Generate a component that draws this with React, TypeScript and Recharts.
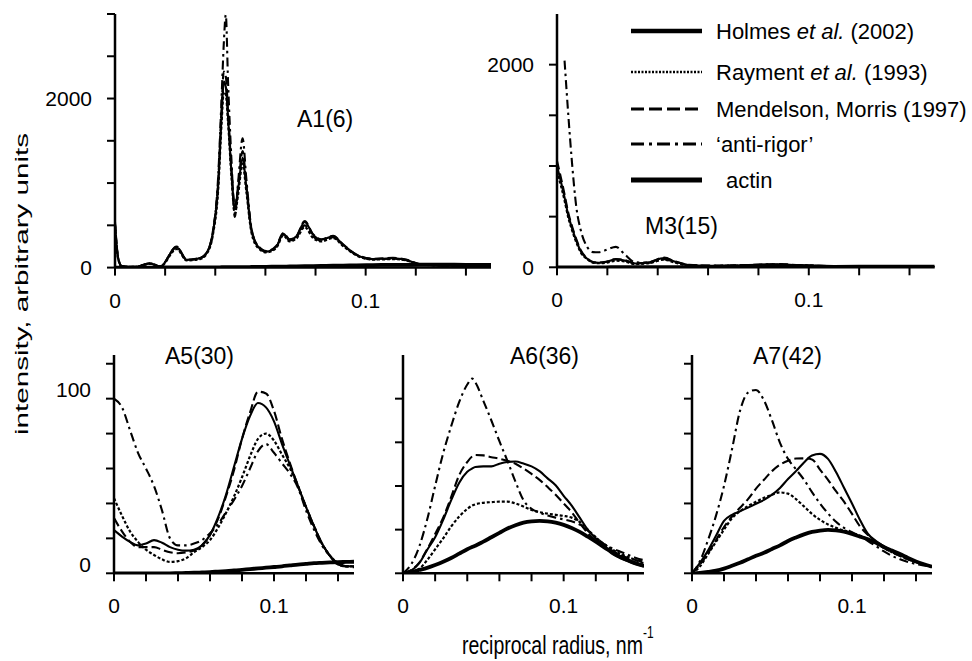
import React from 'react';
import { LineChart, Line, XAxis, YAxis, Legend } from 'recharts';

const FONT = 'Arial, "Liberation Sans", Helvetica, sans-serif';

// ---------- shared ----------
const xTicks = [0, 0.02, 0.04, 0.06, 0.08, 0.1, 0.12, 0.14];
const xGrid = [0, 0.005, 0.01, 0.015, 0.02, 0.025, 0.03, 0.035, 0.04, 0.045, 0.05, 0.055, 0.06, 0.065, 0.07, 0.075, 0.08, 0.085, 0.09, 0.095, 0.1, 0.105, 0.11, 0.115, 0.12, 0.125, 0.13, 0.135, 0.14, 0.145, 0.15];

// ---------- A1(6) ----------
const a1X = [0, 0.0012, 0.0027, 0.008, 0.014, 0.018, 0.0246, 0.0286, 0.0339, 0.0365, 0.039, 0.0412, 0.0425, 0.0434, 0.0442, 0.0451, 0.0465, 0.0478, 0.0491, 0.0509, 0.0524, 0.0544, 0.057, 0.0604, 0.0644, 0.0671, 0.0697, 0.0724, 0.0757, 0.079, 0.0823, 0.087, 0.091, 0.0963, 0.1029, 0.1109, 0.1162, 0.1215, 0.13, 0.14, 0.15];
const a1Holmes = [520, 120, 15, 8, 50, 12, 240, 90, 110, 170, 400, 990, 1780, 2200, 2140, 1780, 1110, 690, 920, 1300, 950, 450, 250, 190, 250, 400, 330, 370, 540, 390, 330, 370, 270, 150, 100, 110, 90, 40, 25, 22, 20];
const a1Rayment = [500, 110, 12, 6, 45, 10, 220, 85, 100, 160, 380, 940, 1700, 2080, 2050, 1720, 1060, 640, 860, 1230, 900, 420, 235, 180, 235, 380, 310, 345, 480, 350, 310, 350, 255, 145, 95, 100, 85, 38, 24, 21, 20];
const a1Mendelson = [540, 130, 18, 8, 52, 14, 250, 95, 115, 175, 420, 1050, 1880, 2320, 2260, 1850, 1150, 720, 960, 1380, 980, 460, 260, 195, 260, 410, 335, 375, 550, 395, 335, 375, 275, 155, 105, 115, 95, 42, 26, 23, 20];
const a1Anti = [500, 120, 15, 8, 48, 12, 245, 92, 112, 172, 410, 1100, 2000, 2650, 2990, 2200, 1250, 600, 1000, 1530, 1050, 470, 255, 190, 250, 390, 320, 360, 500, 370, 315, 360, 265, 150, 100, 105, 88, 40, 25, 22, 20];
const a1Actin = [0, 0, 0, 0, 0, 1, 1, 2, 2, 3, 3, 3, 4, 4, 4, 4, 5, 5, 5, 6, 6, 7, 8, 9, 11, 12, 13, 14, 16, 17, 19, 22, 24, 27, 30, 32, 33, 34, 34, 33, 32];
const a1YTicks = [0, 500, 1000, 1500, 2000, 2500, 3000];
const a1YLabels = [0, 2000];

// ---------- M3(15) ----------
const m3X = [0, 0.003, 0.0045, 0.0058, 0.0077, 0.0095, 0.012, 0.0143, 0.0165, 0.0194, 0.0234, 0.0268, 0.031, 0.0368, 0.0425, 0.047, 0.0524, 0.06, 0.07, 0.08, 0.088, 0.095, 0.11, 0.13, 0.15];
const m3Holmes = [1000, 690, 510, 400, 261, 155, 85, 50, 45, 52, 78, 68, 38, 50, 92, 55, 22, 15, 18, 25, 30, 22, 12, 8, 5];
const m3Rayment = [950, 660, 490, 380, 245, 145, 80, 45, 40, 45, 65, 58, 32, 42, 75, 45, 18, 12, 15, 22, 26, 20, 10, 7, 5];
const m3Mendelson = [1050, 720, 535, 420, 275, 165, 90, 52, 47, 55, 82, 72, 40, 52, 95, 57, 24, 16, 19, 26, 31, 23, 12, 8, 5];
const m3Anti = [null, 2040, 1500, 1080, 590, 360, 200, 150, 148, 170, 202, 130, 50, 45, 80, 50, 20, 14, 17, 24, 28, 20, 11, 7, 5];
const m3Actin = [0, 0, 0, 0, 0, 0, 0, 0, 0, 0, 1, 1, 1, 1, 2, 2, 2, 3, 3, 4, 4, 5, 5, 6, 6];
const m3YTicks = [0, 500, 1000, 1500, 2000];
const m3YLabels = [0, 2000];

// ---------- A5(30) ----------
const a5Holmes = [24.7, 21, 18, 16, 17, 19, 17.5, 15, 13.5, 13, 13.5, 16, 22, 32, 45, 61, 77, 90, 97.5, 95, 87, 74, 62, 50, 38, 27, 17, 10, 5, 4, 4];
const a5Rayment = [43, 33, 24, 18, 13.5, 10.5, 8, 6.5, 7, 8.6, 12, 15, 19, 26, 34.5, 44, 55, 67, 77, 80, 76, 68, 60, 50, 38, 27, 17, 10, 6, 4, 4];
const a5Mendelson = [31.6, 24, 18, 15, 15, 15, 13.5, 12, 11.5, 12, 13, 16, 22, 31, 44, 59, 77, 92, 104, 103, 93, 77, 63, 50, 38, 27, 17, 10, 5, 4, 4];
const a5Anti = [100, 95, 82, 69, 60, 50, 36, 20, 16, 16, 17, 19, 23, 28, 35, 42, 50, 60, 70, 74, 69, 63, 57, 49, 36, 25, 16, 10, 6, 4, 3.5];
const a5Actin = [0, 0, 0, 0, 0, 0, 0, 0, 0.1, 0.2, 0.3, 0.5, 0.7, 1, 1.3, 1.6, 2, 2.4, 2.8, 3.2, 3.6, 4, 4.5, 5, 5.4, 5.8, 6, 6.2, 6.4, 6.5, 6.6];
const a5YTicks = [0, 20, 40, 60, 80, 100, 120];
const a5YLabels = [0, 100];

// ---------- A6(36) ----------
const a6X = [0, 0.005, 0.01, 0.015, 0.02, 0.025, 0.03, 0.035, 0.04, 0.043, 0.045, 0.05, 0.055, 0.06, 0.065, 0.07, 0.075, 0.08, 0.085, 0.09, 0.095, 0.1, 0.105, 0.11, 0.115, 0.12, 0.125, 0.13, 0.135, 0.14, 0.145, 0.15];
const a6Holmes = [0, 1.2, 4.5, 10.7, 16.5, 24.5, 33.5, 41.5, 46.5, 48, 48.7, 49, 49, 50.2, 51, 51.2, 50.3, 49, 46.8, 43.5, 40.3, 35.5, 31, 25.5, 20, 16, 12.5, 9, 7, 5.5, 4, 3];
const a6Rayment = [0, 0.5, 2, 6, 11, 16, 21.5, 26, 29.5, 31, 31.6, 32.3, 32.6, 32.8, 32.8, 32, 30.6, 29, 28, 27.3, 26.8, 26.3, 25.5, 23.5, 20, 16.5, 13.5, 11, 9, 7.5, 6, 4.6];
const a6Mendelson = [0, 1.5, 4.8, 11, 18, 25.5, 35, 45, 51, 53.5, 54.2, 54, 53.2, 52.5, 51.5, 50.2, 48, 45.5, 42.8, 39.5, 36, 32, 28, 23, 18.5, 15, 12.5, 10.5, 8.5, 7, 6, 5.3];
const a6Anti = [0, 4, 12, 24.5, 40, 55, 67.4, 78.5, 86.5, 89.2, 87.5, 79, 70, 60.5, 51.5, 42, 33.5, 29.5, 27.8, 26.5, 25.5, 24.7, 23.8, 22.3, 19.5, 16.5, 13.5, 11.5, 10, 8.5, 7, 6];
const a6Actin = [0, 0.5, 1.5, 2.5, 3.8, 5.3, 7, 9, 11, 12, 12.6, 14.5, 16.5, 18.5, 20.5, 22, 23.2, 23.8, 24, 23.8, 23.2, 22.2, 20.8, 19, 16.8, 14.5, 12, 9.8, 7.6, 6, 4.6, 3.5];
const a6YTicks = [0, 20, 40, 60, 80];

// ---------- A7(42) ----------
const a7Holmes = [0, 6, 13, 21.5, 30, 33.5, 35.5, 37.6, 39.8, 42, 45, 48.9, 54, 58.5, 63.5, 67.5, 68.4, 65.5, 58, 49, 40, 30.5, 22.5, 18.5, 15.5, 12.8, 10.5, 8.5, 6.5, 5, 3.8];
const a7Rayment = [0, 4, 11, 18, 25, 31.5, 35.5, 38.5, 41, 43.2, 45, 46.3, 45.6, 42.5, 38.3, 34, 30.6, 28, 26, 24.5, 23.2, 21.5, 19.5, 17, 14.5, 12, 10, 8, 6.5, 5, 3.8];
const a7Mendelson = [0, 5, 11.5, 19, 26.5, 32.5, 37.5, 42.5, 48.5, 53.6, 58.5, 62.2, 64.5, 65.7, 65.8, 65.2, 59.4, 53.5, 47, 41, 34, 26.8, 22, 18, 14.5, 12, 10, 8, 6.5, 5, 3.8];
const a7Anti = [0, 7, 19, 33, 50, 71, 93, 103.5, 105, 99, 87.5, 74.7, 65.5, 59.5, 53.6, 46.5, 40, 34.3, 29.5, 26, 23.5, 21, 18.5, 15.5, 12.5, 10, 8, 6.5, 5.3, 4.5, 3.8];
const a7Actin = [0, 0.3, 0.8, 1.5, 2.7, 4.3, 6, 8, 10, 11.7, 13.9, 16, 18.5, 20.5, 22.3, 23.7, 24.5, 24.9, 24.6, 23.8, 22.5, 21, 19.5, 17.5, 15, 13, 11, 8.8, 6.8, 5.2, 3.8];
const a7YTicks = [0, 20, 40, 60, 80, 100, 120];

// ---------- series styles ----------
const seriesNames = {
  holmes: 'Holmes et al. (2002)',
  rayment: 'Rayment et al. (1993)',
  mendelson: 'Mendelson, Morris (1997)',
  anti: '‘anti-rigor’',
  actin: 'actin',
};
const seriesStyle: Record<string, { w: number; dash?: string }> = {
  actin: { w: 3.8 },
  rayment: { w: 2.2, dash: '3 2' },
  mendelson: { w: 2.1, dash: '9 4' },
  anti: { w: 2.1, dash: '9 4 2.5 4' },
  holmes: { w: 2.1 },
};
const drawOrder = ['actin', 'rayment', 'mendelson', 'anti', 'holmes'];

function build(xs: number[], s: Record<string, (number | null)[]>) {
  return xs.map((x, i) => {
    const row: any = { x };
    Object.keys(s).forEach((k) => (row[k] = s[k][i]));
    return row;
  });
}

const a1Data = build(a1X, { holmes: a1Holmes, rayment: a1Rayment, mendelson: a1Mendelson, anti: a1Anti, actin: a1Actin });
const m3Data = build(m3X, { holmes: m3Holmes, rayment: m3Rayment, mendelson: m3Mendelson, anti: m3Anti, actin: m3Actin });
const a5Data = build(xGrid, { holmes: a5Holmes, rayment: a5Rayment, mendelson: a5Mendelson, anti: a5Anti, actin: a5Actin });
const a6Data = build(a6X, { holmes: a6Holmes, rayment: a6Rayment, mendelson: a6Mendelson, anti: a6Anti, actin: a6Actin });
const a7Data = build(xGrid, { holmes: a7Holmes, rayment: a7Rayment, mendelson: a7Mendelson, anti: a7Anti, actin: a7Actin });

const makeYTick = (labeled: number[], dy: number) => (props: any) => {
  const { x, y, payload } = props;
  const v = payload.value;
  if (!labeled.includes(v)) return <g />;
  return (
    <text x={x} y={y + dy} textAnchor="end" dominantBaseline="central" fontSize={21} fontFamily={FONT} fill="#000">
      {v}
    </text>
  );
};

const XTick = (props: any) => {
  const { x, y, payload } = props;
  const v = payload.value;
  let label = '';
  if (v === 0) label = '0';
  else if (Math.abs(v - 0.1) < 1e-9) label = '0.1';
  if (!label) return <g />;
  return (
    <text x={x} y={y} dy="0.71em" textAnchor="middle" fontSize={21} fontFamily={FONT} fill="#000">
      {label}
    </text>
  );
};

const LegendBox = () => {
  const rows = [
    { k: 'holmes', y: 21, w: 4.5 },
    { k: 'rayment', y: 62, w: 2.5 },
    { k: 'mendelson', y: 99, w: 3 },
    { k: 'anti', y: 134, w: 3 },
    { k: 'actin', y: 170, w: 5 },
  ];
  const dashes: Record<string, string | undefined> = {
    holmes: undefined,
    rayment: '2 1.5',
    mendelson: '13 5',
    anti: '13 5 3 5',
    actin: undefined,
  };
  const ts = { fontSize: 22, fontFamily: FONT, fill: '#000' } as any;
  return (
    <svg width={360} height={190} style={{ display: 'block' }}>
      {rows.map((r) => (
        <line key={r.k} x1={11} x2={82} y1={r.y} y2={r.y} stroke="#000" strokeWidth={r.w} strokeDasharray={dashes[r.k]} />
      ))}
      <text x={96} y={r0(21)} {...ts}>Holmes <tspan fontStyle="italic">et al.</tspan> (2002)</text>
      <text x={96} y={r0(62)} {...ts}>Rayment <tspan fontStyle="italic">et al.</tspan> (1993)</text>
      <text x={96} y={r0(99)} {...ts}>Mendelson, Morris (1997)</text>
      <text x={96} y={r0(134)} {...ts}>{seriesNames.anti}</text>
      <text x={106} y={r0(170)} {...ts}>{seriesNames.actin}</text>
    </svg>
  );
};
function r0(y: number) {
  return y + 8;
}

type PanelProps = {
  plotLeft: number;
  plotTop: number;
  plotW: number;
  plotH: number;
  data: any[];
  yMax: number;
  yTicks: number[];
  yLabels: number[];
  yLabelDy: number;
  legend?: boolean;
};

function Panel(p: PanelProps) {
  const YW = 100, MT = 10, MR = 10, XH = 60;
  const left = p.plotLeft - YW;
  const top = p.plotTop - MT;
  return (
    <div style={{ position: 'absolute', left, top }}>
      <LineChart
        width={YW + p.plotW + MR}
        height={MT + p.plotH + XH}
        data={p.data}
        margin={{ top: MT, right: MR, bottom: 0, left: 0 }}
      >
        <XAxis
          dataKey="x"
          type="number"
          domain={[0, 0.15]}
          ticks={xTicks}
          allowDataOverflow
          height={XH}
          tickSize={8}
          tickMargin={17}
          axisLine={{ stroke: '#000', strokeWidth: 2.5 }}
          tickLine={{ stroke: '#000', strokeWidth: 2 }}
          tick={XTick}
          interval={0}
        />
        <YAxis
          type="number"
          domain={[0, p.yMax]}
          ticks={p.yTicks}
          allowDataOverflow
          width={YW}
          tickSize={8}
          tickMargin={15}
          axisLine={{ stroke: '#000', strokeWidth: 2.5 }}
          tickLine={{ stroke: '#000', strokeWidth: 2 }}
          tick={makeYTick(p.yLabels, p.yLabelDy)}
          interval={0}
        />
        {drawOrder.map((k) => (
          <Line
            key={k}
            dataKey={k}
            name={(seriesNames as any)[k]}
            type="monotone"
            stroke="#000"
            strokeWidth={seriesStyle[k].w}
            strokeDasharray={seriesStyle[k].dash}
            dot={false}
            activeDot={false}
            connectNulls
            isAnimationActive={false}
          />
        ))}
        {p.legend && (
          <Legend
            layout="vertical"
            align="center"
            verticalAlign="middle"
            wrapperStyle={{ left: 620 - left, top: 10 - top, width: 360, height: 190 }}
            content={() => <LegendBox />}
          />
        )}
      </LineChart>
    </div>
  );
}

export default function App() {
  return (
    <div style={{ position: 'absolute', left: 0, top: 0, width: 972, height: 661, background: '#fff', overflow: 'hidden' }}>
      <Panel plotLeft={115} plotTop={14} plotW={376} plotH={253.6} data={a1Data} yMax={3000} yTicks={a1YTicks} yLabels={a1YLabels} yLabelDy={0} />
      <Panel plotLeft={557.3} plotTop={14} plotW={377.7} plotH={253.3} data={m3Data} yMax={2500} yTicks={m3YTicks} yLabels={m3YLabels} yLabelDy={0} legend />
      <Panel plotLeft={114} plotTop={355} plotW={240} plotH={218.3} data={a5Data} yMax={125} yTicks={a5YTicks} yLabels={a5YLabels} yLabelDy={-9} />
      <Panel plotLeft={402.7} plotTop={355} plotW={241} plotH={218.3} data={a6Data} yMax={100} yTicks={a6YTicks} yLabels={[]} yLabelDy={0} />
      <Panel plotLeft={691.7} plotTop={355} plotW={240} plotH={218.3} data={a7Data} yMax={125} yTicks={a7YTicks} yLabels={[]} yLabelDy={0} />
      <svg width={972} height={661} style={{ position: 'absolute', left: 0, top: 0, pointerEvents: 'none' }}>
        <g fontFamily={FONT} fill="#000">
          <text x={297} y={127} fontSize={23}>A1(6)</text>
          <text x={645} y={234} fontSize={23}>M3(15)</text>
          <text x={165} y={364} fontSize={23}>A5(30)</text>
          <text x={510} y={364} fontSize={23}>A6(36)</text>
          <text x={753} y={364} fontSize={23}>A7(42)</text>
          <text
            transform="translate(28,284) rotate(-90)"
            textAnchor="middle"
            fontSize={19}
            textLength={302}
            lengthAdjust="spacingAndGlyphs"
          >
            intensity, arbitrary units
          </text>
          <g transform="translate(462,654) scale(1,1.3)">
            <text x={0} y={0} fontSize={19.5}>
              reciprocal radius, nm
            </text>
            <text x={181} y={-12} fontSize={12}>-1</text>
          </g>
        </g>
      </svg>
    </div>
  );
}
